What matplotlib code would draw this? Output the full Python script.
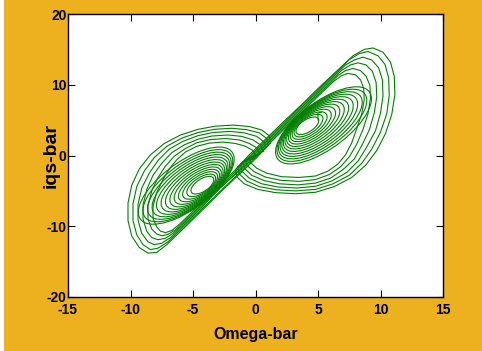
import matplotlib
matplotlib.use("Agg")
import matplotlib.pyplot as plt
from matplotlib.patches import Ellipse, Rectangle

plt.rcParams["axes.unicode_minus"] = False
plt.rcParams["font.family"] = ["Liberation Sans", "DejaVu Sans"]

# ---- data (Omega-bar, iqs-bar) ----
# outer loops of the left wing
A1 = [(1.2, 1.8), (1.1, 2.8), (0.5, 3.6), (-0.5, 4.1), (-1.8, 4.3), (-3.2, 4.15), (-4.6, 3.7), (-6.0, 2.9),
      (-7.3, 1.7), (-8.4, 0.1), (-9.3, -1.9), (-9.9, -4.2), (-10.2, -6.7), (-10.2, -9.2), (-9.9, -11.4),
      (-9.3, -13.0), (-8.6, -13.8), (-7.9, -13.7), (-7.1, -12.6), (-5.8, -10.4), (-4.3, -7.8), (-2.7, -5.0),
      (-1.2, -2.5), (0.1, -0.3)]
A2 = [(1.0, 1.4), (0.9, 2.4), (0.3, 3.2), (-0.7, 3.65), (-1.9, 3.85), (-3.3, 3.7), (-4.6, 3.25), (-5.9, 2.45),
      (-7.1, 1.3), (-8.1, -0.3), (-8.9, -2.2), (-9.5, -4.4), (-9.8, -6.8), (-9.8, -9.2), (-9.5, -11.2),
      (-9.0, -12.6), (-8.4, -13.3), (-7.8, -13.1), (-7.0, -12.2), (-5.8, -10.15), (-4.3, -7.6), (-2.7, -4.85),
      (-1.2, -2.3), (0.0, -0.25)]
A3 = [(0.8, 1.0), (0.7, 1.9), (0.1, 2.7), (-0.9, 3.2), (-2.0, 3.4), (-3.4, 3.25), (-4.6, 2.8), (-5.8, 2.0),
      (-6.9, 0.9), (-7.8, -0.7), (-8.5, -2.5), (-9.1, -4.6), (-9.4, -6.9), (-9.4, -9.1), (-9.1, -11.0),
      (-8.6, -12.2), (-8.1, -12.6), (-7.5, -12.4), (-6.8, -11.6), (-5.7, -9.75), (-4.3, -7.35), (-2.8, -4.5),
      (-1.3, -2.2), (-0.1, -0.2)]
A4 = [(0.6, 0.6), (0.4, 1.5), (-0.2, 2.2), (-1.1, 2.7), (-2.2, 2.9), (-3.5, 2.75), (-4.6, 2.3), (-5.7, 1.5),
      (-6.7, 0.4), (-7.5, -1.1), (-8.2, -2.8), (-8.7, -4.8), (-9.0, -7.0), (-9.0, -9.0), (-8.7, -10.7),
      (-8.3, -11.6), (-7.8, -11.9), (-7.2, -11.7), (-6.6, -11.0), (-5.6, -9.35), (-4.3, -7.1), (-2.9, -4.75),
      (-1.4, -2.2), (-0.3, -0.3)]
A5 = [(0.3, 0.3), (0.1, 1.1), (-0.5, 1.7), (-1.3, 2.2), (-2.4, 2.4), (-3.6, 2.25), (-4.7, 1.8), (-5.6, 1.0),
      (-6.5, -0.1), (-7.2, -1.5), (-7.8, -3.1), (-8.3, -5.0), (-8.6, -7.1), (-8.6, -9.0), (-8.3, -10.4),
      (-7.9, -11.1), (-7.5, -11.35), (-7.0, -11.15), (-6.4, -10.5), (-5.5, -8.95), (-4.3, -6.9), (-2.9, -4.5),
      (-1.5, -2.1), (-0.5, -0.4)]
A6 = [(0.0, 0.0), (-0.2, 0.7), (-0.8, 1.3), (-1.6, 1.7), (-2.6, 1.9), (-3.7, 1.75), (-4.7, 1.3), (-5.6, 0.5),
      (-6.3, -0.6), (-6.9, -1.9), (-7.4, -3.4), (-7.9, -5.2), (-8.2, -7.2), (-8.2, -8.9), (-7.9, -10.1),
      (-7.6, -10.7), (-7.2, -10.9), (-6.7, -10.6), (-6.2, -9.9), (-5.4, -8.55), (-4.3, -6.65), (-3.0, -4.45),
      (-1.7, -2.2), (-0.7, -0.5)]

# outer loops of the right wing
B1 = [(-1.6, -2.0), (-1.5, -3.0), (-0.9, -4.0), (0.2, -4.8), (1.6, -5.25), (3.2, -5.4), (4.8, -5.2), (6.3, -4.4),
      (7.7, -3.1), (8.8, -1.4), (9.7, 0.7), (10.4, 3.1), (10.9, 5.8), (11.15, 8.6), (11.1, 11.2), (10.8, 13.2),
      (10.2, 14.6), (9.4, 15.2), (8.7, 15.0), (7.8, 14.1), (6.6, 12.1), (5.2, 9.8), (3.7, 7.2), (2.2, 4.7),
      (0.8, 2.3), (-0.5, 0.1)]
B2 = [(-1.4, -1.6), (-1.3, -2.6), (-0.7, -3.6), (0.3, -4.4), (1.7, -4.85), (3.2, -5.0), (4.8, -4.8), (6.2, -4.0),
      (7.5, -2.8), (8.5, -1.1), (9.3, 0.9), (10.0, 3.3), (10.5, 5.9), (10.7, 8.5), (10.65, 11.0), (10.35, 12.9),
      (9.8, 14.1), (9.0, 14.7), (8.3, 14.4), (7.5, 13.55), (6.5, 11.85), (5.1, 9.45), (3.6, 6.9), (2.1, 4.3),
      (0.7, 1.9), (-0.5, -0.15)]
B3 = [(-1.2, -1.2), (-1.1, -2.2), (-0.5, -3.2), (0.5, -4.0), (1.8, -4.45), (3.3, -4.6), (4.8, -4.35), (6.1, -3.6),
      (7.3, -2.4), (8.2, -0.8), (8.9, 1.2), (9.6, 3.5), (10.0, 6.0), (10.2, 8.4), (10.15, 10.7), (9.85, 12.4),
      (9.3, 13.5), (8.6, 13.9), (7.9, 13.5), (7.2, 12.8), (6.3, 11.3), (5.0, 9.05), (3.5, 6.5), (2.0, 3.9),
      (0.6, 1.5), (-0.5, -0.35)]
B4 = [(-1.0, -0.9), (-0.9, -1.8), (-0.3, -2.8), (0.7, -3.55), (1.9, -4.0), (3.4, -4.15), (4.8, -3.9), (6.0, -3.2),
      (7.0, -2.0), (7.9, -0.5), (8.5, 1.4), (9.1, 3.6), (9.5, 6.0), (9.7, 8.3), (9.65, 10.3), (9.35, 11.9),
      (8.85, 12.8), (8.2, 13.1), (7.6, 12.8), (6.9, 12.05), (6.1, 10.7), (4.9, 8.65), (3.4, 6.1), (1.9, 3.5),
      (0.5, 1.1), (-0.4, -0.4)]
B5 = [(-0.8, -0.6), (-0.7, -1.4), (-0.1, -2.3), (0.8, -3.05), (2.0, -3.5), (3.5, -3.65), (4.8, -3.4), (5.9, -2.7),
      (6.8, -1.6), (7.5, -0.2), (8.1, 1.6), (8.6, 3.7), (9.0, 5.9), (9.2, 8.1), (9.15, 9.9), (8.85, 11.2),
      (8.4, 12.0), (7.8, 12.3), (7.2, 12.0), (6.6, 11.3), (5.9, 10.1), (4.8, 8.25), (3.3, 5.7), (1.8, 3.1),
      (0.5, 0.9), (-0.3, -0.5)]
B6 = [(-0.5, -0.3), (-0.4, -1.0), (0.1, -1.8), (0.9, -2.5), (2.1, -3.0), (3.5, -3.1), (4.8, -2.9), (5.8, -2.2),
      (6.6, -1.2), (7.2, 0.1), (7.7, 1.8), (8.1, 3.8), (8.5, 5.9), (8.7, 7.9), (8.65, 9.5), (8.4, 10.7),
      (8.0, 11.4), (7.4, 11.6), (6.9, 11.3), (6.3, 10.55), (5.7, 9.55), (4.7, 7.85), (3.2, 5.3), (1.7, 2.7),
      (0.5, 0.65), (-0.2, -0.55)]

# dense inner rings around the two foci
left_cx = [-4.25, -4.34, -4.43, -4.52, -4.62, -4.72, -4.83, -4.94, -5.06, -5.17, -5.29, -5.41, -5.54]
left_cy = [-4.20, -4.22, -4.23, -4.25, -4.26, -4.27, -4.27, -4.27, -4.27, -4.27, -4.27, -4.27, -4.26]
right_cx = [4.15, 4.24, 4.33, 4.42, 4.52, 4.62, 4.73, 4.84, 4.96, 5.07, 5.19, 5.31, 5.44]
right_cy = [4.20, 4.22, 4.23, 4.25, 4.26, 4.27, 4.27, 4.27, 4.27, 4.27, 4.27, 4.27, 4.26]
ring_w = [2.8, 3.6, 4.4, 5.2, 6.0, 6.8, 7.6, 8.4, 9.2, 10.0, 10.8, 11.6, 12.4]
ring_h = [1.3, 1.6, 1.9, 2.2, 2.5, 2.8, 3.1, 3.4, 3.7, 4.0, 4.3, 4.6, 4.9]
ring_angle = 58.8

# initial point stub
start_x = [5.0, 5.0, 5.25]
start_y = [5.0, 6.0, 6.1]

x_ticks = [-15, -10, -5, 0, 5, 10, 15]
y_ticks = [-20, -10, 0, 10, 20]

GREEN = "#008000"
ORANGE = "#EDB120"

fig = plt.figure(figsize=(4.82, 3.51), dpi=100, facecolor=ORANGE)
fig.add_artist(Rectangle((0, 0), 4 / 482, 1, transform=fig.transFigure,
                         facecolor="white", edgecolor="none", zorder=0))
ax = fig.add_axes([68 / 482, 54 / 351, 375 / 482, 283 / 351])
ax.set_facecolor("white")

for loop in [A1, A2, A3, A4, A5, A6, B1, B2, B3, B4, B5, B6]:
    xs = [p[0] for p in loop] + [loop[0][0]]
    ys = [p[1] for p in loop] + [loop[0][1]]
    ax.plot(xs, ys, color=GREEN, lw=0.8)

for cx, cy, w, h in zip(left_cx, left_cy, ring_w, ring_h):
    ax.add_patch(Ellipse((cx, cy), w, h, angle=ring_angle, fill=False, edgecolor=GREEN, lw=0.8))
for cx, cy, w, h in zip(right_cx, right_cy, ring_w, ring_h):
    ax.add_patch(Ellipse((cx, cy), w, h, angle=ring_angle, fill=False, edgecolor=GREEN, lw=0.8))

ax.plot(start_x, start_y, color=GREEN, lw=0.8)

ax.set_xlim(-15, 15)
ax.set_ylim(-20, 20)
ax.set_xticks(x_ticks)
ax.set_yticks(y_ticks)
ax.tick_params(direction="in", length=5, width=0.8, top=True, right=True,
               labelsize=10, colors="black")
ax.tick_params(axis="x", pad=4)
ax.tick_params(axis="y", pad=1)
for lbl in ax.get_xticklabels() + ax.get_yticklabels():
    lbl.set_fontweight("bold")
for s in ax.spines.values():
    s.set_linewidth(1.0)
    s.set_color("black")

ax.set_xlabel("Omega-bar", fontsize=11.5, fontweight="bold")
ax.xaxis.set_label_coords(0.5, -0.105)
ax.set_ylabel("iqs-bar", fontsize=14, fontweight="bold")
ax.yaxis.set_label_coords(-0.022, 0.5)

fig.savefig("out.png", dpi=100, facecolor=ORANGE)
